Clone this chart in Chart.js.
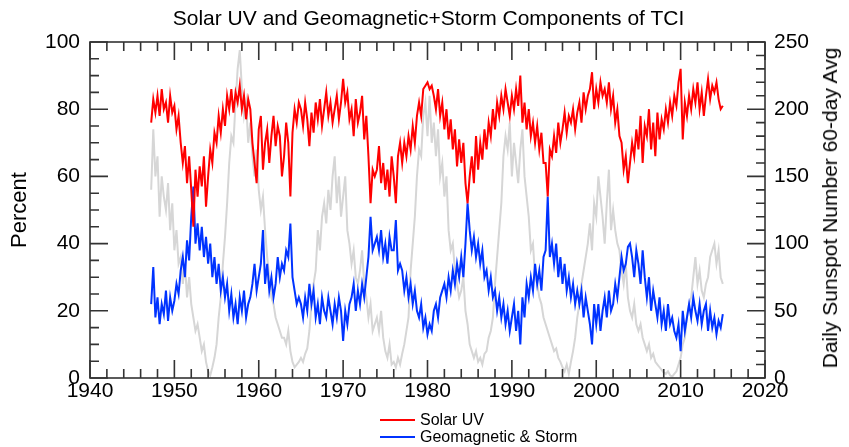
<!DOCTYPE html>
<html><head><meta charset="utf-8">
<script src="https://cdn.jsdelivr.net/npm/chart.js@4.4.1/dist/chart.umd.min.js"></script>
<style>
html,body{margin:0;padding:0;background:#fff;}
#wrap{position:relative;width:849px;height:447px;font-family:"Liberation Sans",Arial,Helvetica,sans-serif;color:#000;overflow:hidden;}
#c{position:absolute;left:0;top:0;}
#title{position:absolute;left:0;top:5px;width:849px;text-align:center;font-size:21px;line-height:25px;padding-left:8px;box-sizing:border-box;}
#rtitle{position:absolute;left:830px;top:208px;transform:translate(-50%,-50%) rotate(-90deg);white-space:nowrap;font-size:21px;line-height:24px;}
.leg{position:absolute;left:380px;height:18px;font-size:16px;line-height:18px;white-space:nowrap;}
.leg span.ln{display:inline-block;width:35px;height:2px;vertical-align:middle;margin-right:5px;position:relative;top:-1px;}
</style></head>
<body><div id="wrap">
<canvas id="c" width="849" height="447"></canvas>
<div id="title">Solar UV and Geomagnetic+Storm Components of TCI</div>
<div id="rtitle">Daily Sunspot Number 60-day Avg</div>
<div class="leg" style="top:411px"><span class="ln" style="background:#ff0000"></span>Solar UV</div>
<div class="leg" style="top:428px"><span class="ln" style="background:#0033ff"></span>Geomagnetic &amp; Storm</div>
</div>
<script>
const years = [
1947.25,1947.5,1947.75,
1948,1948.25,1948.5,1948.75, 1949,1949.25,1949.5,1949.75,
1950,1950.25,1950.5,1950.75, 1951,1951.25,1951.5,1951.75,
1952,1952.25,1952.5,1952.75, 1953,1953.25,1953.5,1953.75,
1954,1954.25,1954.5,1954.75, 1955,1955.25,1955.5,1955.75,
1956,1956.25,1956.5,1956.75, 1957,1957.25,1957.5,1957.75,
1958,1958.25,1958.5,1958.75, 1959,1959.25,1959.5,1959.75,
1960,1960.25,1960.5,1960.75, 1961,1961.25,1961.5,1961.75,
1962,1962.25,1962.5,1962.75, 1963,1963.25,1963.5,1963.75,
1964,1964.25,1964.5,1964.75, 1965,1965.25,1965.5,1965.75,
1966,1966.25,1966.5,1966.75, 1967,1967.25,1967.5,1967.75,
1968,1968.25,1968.5,1968.75, 1969,1969.25,1969.5,1969.75,
1970,1970.25,1970.5,1970.75, 1971,1971.25,1971.5,1971.75,
1972,1972.25,1972.5,1972.75, 1973,1973.25,1973.5,1973.75,
1974,1974.25,1974.5,1974.75, 1975,1975.25,1975.5,1975.75,
1976,1976.25,1976.5,1976.75, 1977,1977.25,1977.5,1977.75,
1978,1978.25,1978.5,1978.75, 1979,1979.25,1979.5,1979.75,
1980,1980.25,1980.5,1980.75, 1981,1981.25,1981.5,1981.75,
1982,1982.25,1982.5,1982.75, 1983,1983.25,1983.5,1983.75,
1984,1984.25,1984.5,1984.75, 1985,1985.25,1985.5,1985.75,
1986,1986.25,1986.5,1986.75, 1987,1987.25,1987.5,1987.75,
1988,1988.25,1988.5,1988.75, 1989,1989.25,1989.5,1989.75,
1990,1990.25,1990.5,1990.75, 1991,1991.25,1991.5,1991.75,
1992,1992.25,1992.5,1992.75, 1993,1993.25,1993.5,1993.75,
1994,1994.25,1994.5,1994.75, 1995,1995.25,1995.5,1995.75,
1996,1996.25,1996.5,1996.75, 1997,1997.25,1997.5,1997.75,
1998,1998.25,1998.5,1998.75, 1999,1999.25,1999.5,1999.75,
2000,2000.25,2000.5,2000.75, 2001,2001.25,2001.5,2001.75,
2002,2002.25,2002.5,2002.75, 2003,2003.25,2003.5,2003.75,
2004,2004.25,2004.5,2004.75, 2005,2005.25,2005.5,2005.75,
2006,2006.25,2006.5,2006.75, 2007,2007.25,2007.5,2007.75,
2008,2008.25,2008.5,2008.75, 2009,2009.25,2009.5,2009.75,
2010,2010.25,2010.5,2010.75, 2011,2011.25,2011.5,2011.75,
2012,2012.25,2012.5,2012.75, 2013,2013.25,2013.5,2013.75,
2014,2014.25,2014.5,2014.75,
2015
];
// Solar UV component (percent, left axis)
const solarUV = [
76,83,79,
84,78,86,80, 82,76,84,79,
81,74,78,70, 64,69,58,66,
56,45,62,54, 63,57,66,51,
60,68,64,73, 70,78,73,80,
75,84,80,86, 79,85,82,87,
80,84,77,83, 80,70,64,58,
74,78,62,70, 74,64,72,78,
69,75,72,60, 66,76,70,54,
73,80,76,82, 80,75,82,77,
69,79,73,82, 77,83,75,80,
85,78,82,76, 80,84,77,82,
89,82,85,77, 80,72,83,76,
79,84,71,78, 66,52,62,60,
62,69,58,64, 56,62,54,66,
60,52,66,70, 64,70,66,72,
68,75,70,78, 82,78,86,87,
88,86,87,84, 80,86,78,82,
74,80,71,77, 68,74,63,71,
64,70,58,52, 60,66,58,72,
62,70,65,74, 68,76,72,80,
74,82,78,84, 80,86,82,78,
84,80,86,81, 90,76,82,74,
80,72,76,70, 75,68,73,64,
64,54,68,66, 72,67,76,70,
74,79,73,78, 76,80,74,79,
82,76,85,80, 84,86,91,80,
86,82,88,84, 86,82,88,80,
84,76,80,72, 70,62,66,58,
64,70,66,74, 68,78,64,75,
72,80,68,76, 66,79,71,77,
74,80,76,82, 78,84,81,88,
92,71,82,78, 84,80,86,82,
88,80,85,78, 84,89,83,87,
85,88,83,80,
81
];
// Geomagnetic & Storm component (percent, left axis)
const geoStorm = [
22,33,18,
24,16,22,19, 26,17,24,20,
23,28,25,32, 36,30,41,35,
48,57,40,46, 38,45,36,42,
34,40,30,36, 28,34,26,30,
24,28,20,25, 18,22,16,24,
20,26,18,22, 24,28,34,26,
30,34,44,28, 34,26,30,24,
28,36,30,34, 32,38,36,46,
30,26,22,24, 22,18,24,20,
28,22,26,18, 22,16,24,20,
18,24,20,16, 22,18,24,20,
11,20,16,22, 24,28,20,26,
22,28,24,30, 36,48,38,40,
42,38,44,36, 40,34,42,38,
38,47,32,34, 32,26,30,24,
28,22,26,20, 18,22,15,18,
13,16,14,20, 22,18,24,26,
28,24,30,26, 32,28,34,30,
36,30,40,52, 44,38,42,36,
40,34,38,30, 32,26,30,24,
26,20,24,18, 22,16,20,14,
18,22,14,20, 10,24,18,28,
24,30,26,34, 28,32,26,36,
38,54,36,40, 34,40,30,36,
28,34,26,30, 24,28,22,26,
22,26,18,24, 20,16,10,22,
16,22,14,20, 24,18,26,20,
22,28,24,30, 36,32,34,39,
40,36,30,38, 34,28,38,30,
24,30,20,26, 22,18,24,16,
20,14,22,16, 18,14,12,16,
8,20,14,18, 22,18,24,20,
17,22,16,20, 22,14,20,15,
18,13,17,15,
19
];
// Daily sunspot number, 60-day average (right axis)
const sunspot = [
140,185,150,
165,120,150,135, 125,145,110,130,
95,110,85,90, 70,85,60,75,
55,45,35,40, 30,20,25,12,
5,2,8,15, 25,45,60,85,
105,130,160,180, 175,205,230,244,
215,195,205,175, 190,165,150,170,
140,125,135,110, 90,75,60,55,
45,40,35,30, 30,25,35,20,
12,8,10,12, 15,12,18,22,
35,55,70,80, 110,95,120,130,
115,140,125,150, 165,130,150,120,
135,150,110,100, 85,95,75,70,
80,95,70,60, 45,55,35,40,
45,35,50,30, 20,15,25,10,
12,8,15,10, 18,25,35,45,
80,100,120,150, 170,165,195,205,
180,210,175,190, 165,185,150,160,
135,150,110,95, 100,80,70,60,
65,75,50,40, 25,20,15,20,
12,15,10,18, 20,30,35,45,
70,90,110,130, 165,180,170,190,
150,175,160,145, 170,185,150,135,
120,95,100,75, 70,60,55,45,
40,35,30,25, 20,22,15,12,
8,5,10,3, 12,20,30,45,
55,70,80,90, 100,115,95,130,
120,150,135,120, 100,130,155,110,
125,110,100,95, 80,70,85,60,
50,45,55,40, 35,40,30,25,
20,25,15,18, 12,10,8,6,
4,3,5,2, 1,3,5,10,
15,25,30,45, 55,60,75,90,
70,80,65,60, 70,75,90,95,
100,85,95,75,
70
];

const FONT = '"Liberation Sans", Arial, Helvetica, sans-serif';
const pts = arr => years.map((x, i) => ({x, y: arr[i]}));

const frameTicks = {
  id: 'frameTicks',
  afterDatasetsDraw(chart) {
    const {ctx, chartArea: a, scales: {x, y, y2}} = chart;
    ctx.save();
    ctx.strokeStyle = '#333';
    ctx.lineWidth = 1.6;
    ctx.strokeRect(a.left, a.top, a.right - a.left, a.bottom - a.top);
    ctx.beginPath();
    for (let v = 1940; v <= 2020; v += 2) {
      const p = x.getPixelForValue(v), L = v % 10 === 0 ? 18 : 9;
      ctx.moveTo(p, a.bottom); ctx.lineTo(p, a.bottom - L);
      ctx.moveTo(p, a.top); ctx.lineTo(p, a.top + L);
    }
    for (let v = 0; v <= 100; v += 5) {
      const p = y.getPixelForValue(v), L = v % 20 === 0 ? 18 : 9;
      ctx.moveTo(a.left, p); ctx.lineTo(a.left + L, p);
    }
    for (let v = 0; v <= 250; v += 10) {
      const p = y2.getPixelForValue(v), L = v % 50 === 0 ? 18 : 9;
      ctx.moveTo(a.right, p); ctx.lineTo(a.right - L, p);
    }
    ctx.stroke();
    ctx.restore();
  }
};

const tickFont = {family: FONT, size: 21};
new Chart(document.getElementById('c'), {
  type: 'line',
  data: {
    datasets: [
      {label: 'Solar UV', data: pts(solarUV), borderColor: '#ff0000', borderWidth: 2, pointRadius: 0, tension: 0, yAxisID: 'y'},
      {label: 'Geomagnetic & Storm', data: pts(geoStorm), borderColor: '#0033ff', borderWidth: 2, pointRadius: 0, tension: 0, yAxisID: 'y'},
      {label: 'Daily Sunspot Number 60-day Avg', data: pts(sunspot), borderColor: '#d6d6d6', borderWidth: 2, pointRadius: 0, tension: 0, yAxisID: 'y2'}
    ]
  },
  options: {
    responsive: false,
    animation: false,
    layout: {padding: {top: 42, left: 0, right: 0, bottom: 0}},
    plugins: {legend: {display: false}, tooltip: {enabled: false}, title: {display: false}},
    scales: {
      x: {
        type: 'linear', min: 1940, max: 2020,
        grid: {display: false, drawTicks: false}, border: {display: false},
        ticks: {stepSize: 10, padding: 1, color: '#000', font: tickFont, maxRotation: 0, callback: v => String(v)},
        afterFit(s) { s.height = 69; }
      },
      y: {
        position: 'left', min: 0, max: 100,
        grid: {display: false, drawTicks: false}, border: {display: false},
        ticks: {stepSize: 20, padding: 10, color: '#000', font: tickFont},
        title: {display: true, text: 'Percent', color: '#000', font: {family: FONT, size: 22}, padding: {top: 7, bottom: 0}},
        afterFit(s) { s.width = 90; }
      },
      y2: {
        position: 'right', min: 0, max: 250,
        grid: {display: false, drawTicks: false}, border: {display: false},
        ticks: {stepSize: 50, padding: 9, color: '#000', font: tickFont},
        afterFit(s) { s.width = 84; }
      }
    }
  },
  plugins: [frameTicks]
});
</script>
</body></html>
